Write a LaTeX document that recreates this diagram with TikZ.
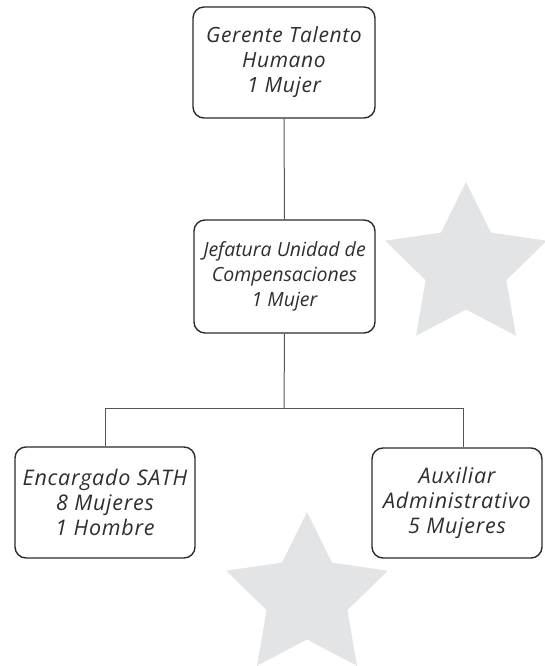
\documentclass[tikz,border=0pt]{standalone}
\usepackage{fontspec}
\setmainfont{Open Sans}
\newfontfamily\topfont{Open Sans}[LetterSpace=3]
\newfontfamily\widefont{Open Sans}[LetterSpace=3.5]
\definecolor{starc}{HTML}{E3E4E6}
\definecolor{boxc}{HTML}{2B2B2B}
\definecolor{linec}{HTML}{555555}
\definecolor{txtc}{HTML}{2E2E2E}
\begin{document}
\begin{tikzpicture}[x=1pt,y=1pt,
  orgbox/.style={draw=boxc, line width=1.4pt, rounded corners=11pt, align=center,
    text=txtc, font=\fontsize{19.5}{25}\selectfont\itshape, inner sep=0pt},
  topbox/.style={orgbox, font=\topfont\fontsize{21}{25}\selectfont\itshape},
  widebox/.style={orgbox, font=\widefont\fontsize{21.5}{25}\selectfont\itshape},
  conn/.style={draw=linec, line width=1pt}]
\useasboundingbox (0,0) rectangle (545,-666);
% stars
\fill[starc] (466,-267) +(90:85) -- +(126:42.5) -- +(162:85) -- +(198:42.5) -- +(234:85) -- +(270:42.5) -- +(306:85) -- +(342:42.5) -- +(18:85) -- +(54:42.5) -- cycle;
\fill[starc] (307,-597) +(90:85) -- +(126:42.5) -- +(162:85) -- +(198:42.5) -- +(234:85) -- +(270:42.5) -- +(306:85) -- +(342:42.5) -- +(18:85) -- +(54:42.5) -- cycle;
% boxes
\node[topbox, minimum width=182pt, minimum height=111pt] (top) at (284,-62.5)
  {Gerente Talento\\Humano\\1 Mujer};
\node[orgbox, minimum width=181pt, minimum height=113pt] (mid) at (284.5,-276.5)
  {Jefatura Unidad de\\Compensaciones\\1 Mujer};
\node[widebox, minimum width=180pt, minimum height=111pt] (bl) at (105,-502.5)
  {Encargado SATH\\8 Mujeres\\1 Hombre};
\node[widebox, minimum width=170pt, minimum height=110pt] (br) at (457,-503)
  {Auxiliar\\Administrativo\\5 Mujeres};
% connectors
\coordinate (j) at (284,-408);
\coordinate (brtop) at ([xshift=6pt]br.north);
\draw[conn] (top.south) -- (mid.north);
\draw[conn] (mid.south) -- (j);
\draw[conn] (j) -| (bl.north);
\draw[conn] (j) -| (brtop);
\end{tikzpicture}
\end{document}
